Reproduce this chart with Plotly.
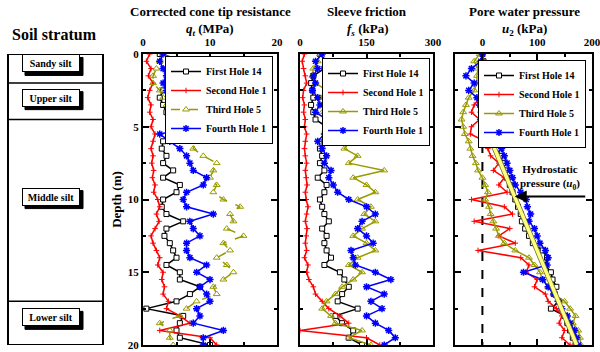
import plotly.graph_objects as go

# ---------------- data ----------------
DEPTH = [0, 0.5, 1, 1.5, 2, 2.5, 3, 3.5, 4, 4.5, 5, 5.5, 6, 6.5, 7, 7.5, 8, 8.5, 9, 9.5,
         10, 10.5, 11, 11.5, 12, 12.5, 13, 13.5, 14, 14.5, 15, 15.5, 16, 16.5, 17, 17.5,
         18, 18.5, 19, 19.5, 20]

SERIES = ["First Hole 14", "Second Hole 1", "Third Hole 5", "Fourth Hole 1"]

# Corrected cone tip resistance qt (MPa)
QT_FIRST = [2.5, 6.5, 8.0, 4.5, 3.5, 3.0, 2.5, 3.0, 3.5, 4.0, 5.0, 4.0, 3.0, 2.8, 3.5, 3.0, 4.5, 3.0, 5.5, 5.0,
            3.0, 2.8, 3.5, 6.0, 3.5, 3.2, 4.0, 4.5, 5.0, 3.5, 5.5, 5.5, 8.5, 7.0, 5.0, 0.5, 6.0, 5.5, 5.0, 5.5, 10.0]
QT_SECOND = [1.0, 0.5, 1.2, 0.8, 1.5, 1.0, 0.7, 1.2, 1.0, 1.5, 1.2, 1.8, 1.5, 1.2, 1.5, 1.3, 1.6, 1.4, 1.8, 1.6,
             2.2, 2.5, 2.0, 2.4, 1.8, 1.2, 1.5, 2.0, 2.5, 2.2, 3.0, 2.8, 3.2, 3.0, 3.8, 3.5, 5.5, 7.0, 2.5, 10.0, 11.0]
QT_THIRD = [3.0, 2.5, 2.0, 1.5, 1.5, 2.5, 3.0, 3.5, 4.0, 5.0, 7.5, 9.5, 8.0, 7.5, 9.0, 11.0, 10.5, 10.0, 11.0, 10.5,
            12.0, 14.5, 13.0, 13.5, 12.5, 15.0, 12.0, 13.0, 11.0, 12.5, 13.5, 12.0, 10.5, 11.0, 8.0, 6.5, 5.5, 2.5, 4.0, 4.0, 4.5]
QT_FOURTH = [3.0, 2.5, 3.0, 3.5, 3.0, 3.5, 4.5, 5.0, 5.5, 7.5, 8.0, 2.5, 4.0, 5.5, 6.5, 7.0, 7.5, 9.5, 9.0, 6.5,
             6.0, 6.5, 10.5, 7.0, 7.5, 8.5, 6.5, 6.5, 7.0, 9.5, 8.0, 10.0, 8.5, 9.5, 10.0, 8.0, 8.5, 7.5, 12.0, 9.0, 9.0]

# Sleeve friction fs (kPa)
FS_FIRST = [45, 60, 55, 30, 25, 28, 30, 25, 30, 35, 60, 70, 55, 45, 50, 45, 55, 40, 60, 55,
            45, 50, 55, 65, 50, 60, 55, 60, 70, 55, 90, 100, 110, 95, 85, 130, 80, 95, 120, 110, 140]
FS_SECOND = [10, 5, 8, 12, 15, 8, 6, 10, 8, 12, 10, 15, 12, 10, 12, 15, 12, 14, 16, 12,
             14, 18, 15, 12, 16, 14, 12, 15, 10, 18, 15, 20, 30, 35, 50, 65, 90, 110, 0, 150, 180]
FS_THIRD = [45, 40, 30, 28, 35, 60, 45, 70, 50, 80, 110, 90, 115, 100, 130, 110, 190, 120, 150, 170,
            130, 160, 145, 170, 140, 120, 150, 170, 130, 110, 140, 120, 95, 80, 60, 50, 70, 80, 140, 110, 160]
FS_FOURTH = [50, 35, 40, 30, 35, 28, 40, 45, 35, 60, 70, 55, 40, 50, 60, 55, 70, 65, 75, 85,
             110, 150, 170, 140, 130, 150, 165, 115, 120, 125, 170, 205, 150, 190, 160, 185, 150, 170, 200, 215, 190]

# Pore water pressure u2 (kPa)
U2_FIRST = [0, 2, 0, 2, 0, 3, 0, 2, 3, 5, 15, 20, 22, 28, 32, 38, 42, 45, 50, 55,
            60, 65, 70, 72, 78, 85, 92, 110, 118, 115, 125, 128, 135, 132, 140, 125, 150, 155, 160, 165, 170]
U2_SECOND = [0, 3, 0, 5, 8, 3, -5, -15, -20, -5, -20, -22, 5, 10, 15, 30, 20, 40, 30, 45,
             -20, 40, 55, -15, 50, 30, 60, -8, 70, 85, 80, 100, 95, 115, 120, 135, 145, 140, 150, 145, 160]
U2_THIRD = [-5, -15, -8, -10, -10, -15, -25, -30, -35, -38, -35, -32, -25, -22, -18, -12, -8, 0, 5, 10,
            5, 12, 15, 20, 25, 30, 40, 60, 85, 95, 105, 110, 120, 130, 150, 160, 170, 165, 175, 178, 180]
U2_FOURTH = [0, -3, -20, -30, -15, -25, -10, -5, -2, 0, 10, 15, 25, 35, 40, 45, 50, 55, 60, 70,
             80, 82, 88, 85, 95, 100, 105, 115, 120, 118, 75, 110, 120, 130, 138, 145, 155, 160, 168, 172, 175]

# Hydrostatic pressure line
HYDRO_DEPTH = [4.5, 20]
HYDRO_U = [0, 172]

# Soil strata
LAYER_NAMES = ["Sandy silt", "Upper silt", "Middle silt", "Lower silt"]
LAYER_BOUNDS = [0, 2, 4.5, 17, 20]

QT_TICKS = [0, 10, 20]
FS_TICKS = [0, 150, 300]
U2_TICKS = [0, 100, 200]
DEPTH_TICKS = [0, 5, 10, 15, 20]

# ---------------- styling ----------------
W, H = 600, 352
FONT = "Liberation Serif"
COLORS = ["#000000", "#ff0000", "#999900", "#0000ff"]


def px(x):
    return x / W


def py(y):
    return 1 - y / H


Y_DOMAIN = [py(345), py(54)]


def marker_for(i):
    if i == 0:
        return dict(symbol="square", size=5, color="white", line=dict(color=COLORS[0], width=1))
    if i == 1:
        return dict(symbol="cross-thin", size=4, color=COLORS[1], line=dict(color=COLORS[1], width=1))
    if i == 2:
        return dict(symbol="triangle-up-open", size=6, color=COLORS[2], line=dict(color=COLORS[2], width=1))
    return dict(symbol="asterisk-open", size=6, color=COLORS[3], line=dict(color=COLORS[3], width=1.5))


fig = go.Figure()

panels = [
    ("x", "y", "legend", [QT_FIRST, QT_SECOND, QT_THIRD, QT_FOURTH]),
    ("x2", "y2", "legend2", [FS_FIRST, FS_SECOND, FS_THIRD, FS_FOURTH]),
    ("x3", "y3", "legend3", [U2_FIRST, U2_SECOND, U2_THIRD, U2_FOURTH]),
]

for pi, (xa, ya, lg, data) in enumerate(panels):
    for i, vals in enumerate(data):
        dash = "dash" if (pi == 0 and i == 2) else "solid"
        fig.add_trace(go.Scatter(
            x=vals, y=DEPTH, xaxis=xa, yaxis=ya, legend=lg, name=SERIES[i],
            mode="lines+markers",
            line=dict(color=COLORS[i], width=1.5, dash=dash),
            marker=marker_for(i),
        ))
    if pi == 2:
        fig.add_trace(go.Scatter(x=HYDRO_U, y=HYDRO_DEPTH, xaxis=xa, yaxis=ya, mode="lines",
                                 line=dict(color="#6b6b2a", width=5), showlegend=False, hoverinfo="skip"))
        fig.add_trace(go.Scatter(x=HYDRO_U, y=HYDRO_DEPTH, xaxis=xa, yaxis=ya, mode="lines",
                                 line=dict(color="#ffff80", width=3.5), showlegend=False, hoverinfo="skip"))

tickfont = dict(family=FONT, size=11, color="black", weight="bold")
common_ax = dict(showline=True, linewidth=2, linecolor="black", mirror="allticks",
                 ticks="inside", ticklen=6, tickwidth=1.5, tickcolor="black", automargin=False,
                 showgrid=False, zeroline=False, tickfont=tickfont, fixedrange=True,
                 ticklabeloverflow="allow")

xcommon = dict(common_ax, side="top", ticklabelstandoff=2)
fig.update_layout(
    xaxis=dict(xcommon, domain=[px(143), px(277)], range=[0, 20], tickvals=QT_TICKS,
               anchor="y", minor=dict(dtick=5, ticks="inside", ticklen=3, tickcolor="black")),
    xaxis2=dict(xcommon, domain=[px(300), px(433)], range=[0, 300], tickvals=FS_TICKS,
                anchor="y2", minor=dict(dtick=75, ticks="inside", ticklen=3, tickcolor="black")),
    xaxis3=dict(xcommon, domain=[px(455), px(592)], range=[-50, 200], tickvals=U2_TICKS,
                anchor="y3", minor=dict(dtick=50, ticks="inside", ticklen=3, tickcolor="black")),
    yaxis=dict(common_ax, domain=Y_DOMAIN, range=[20, 0], tickvals=DEPTH_TICKS, anchor="x",
               minor=dict(dtick=2.5, ticks="inside", ticklen=3, tickcolor="black"),
               title=dict(text="Depth (m)", font=dict(family=FONT, size=13, color="black", weight="bold"),
                          standoff=3)),
    yaxis2=dict(common_ax, domain=Y_DOMAIN, range=[20, 0], tickvals=DEPTH_TICKS, anchor="x2",
                showticklabels=False,
                minor=dict(dtick=2.5, ticks="inside", ticklen=3, tickcolor="black")),
    yaxis3=dict(common_ax, domain=Y_DOMAIN, range=[20, 0], tickvals=DEPTH_TICKS, anchor="x3",
                showticklabels=False,
                minor=dict(dtick=2.5, ticks="inside", ticklen=3, tickcolor="black")),
)

legfont = dict(family=FONT, size=10, color="black", weight="bold")
legcommon = dict(bgcolor="white", bordercolor="black", borderwidth=1, font=legfont,
                 itemwidth=30, xanchor="right", yanchor="top", tracegroupgap=0)
fig.update_layout(
    legend=dict(legcommon, x=px(273), y=py(56)),
    legend2=dict(legcommon, x=px(430), y=py(58)),
    legend3=dict(legcommon, x=px(586), y=py(60)),
)

label_depths = [0.65, 3.0, 9.8, 18.1]
LAB_W, LAB_H = 52, 12  # text box size in px (plus pad/border)
half_w, half_h = LAB_W / 2 + 3, LAB_H / 2 + 3

shapes = []
# soil column box
shapes.append(dict(type="rect", xref="paper", yref="y", x0=px(8), x1=px(103),
                   y0=LAYER_BOUNDS[0], y1=LAYER_BOUNDS[-1], line=dict(color="black", width=2)))
for b in LAYER_BOUNDS[1:-1]:
    shapes.append(dict(type="line", xref="paper", yref="y", x0=px(8), x1=px(103), y0=b, y1=b,
                       line=dict(color="black", width=1.5)))
# drop shadows of stratum labels
for d in label_depths:
    shapes.append(dict(type="rect", xref="paper", yref="y",
                       xsizemode="pixel", xanchor=px(51), x0=-half_w + 3, x1=half_w + 3,
                       ysizemode="pixel", yanchor=d, y0=-half_h - 3, y1=half_h - 3,
                       fillcolor="black", line=dict(color="black", width=1)))
# zero line in u2 panel
shapes.append(dict(type="line", xref="x3", yref="y3", x0=0, x1=0, y0=0, y1=20, layer="below",
                   line=dict(color="black", width=2, dash="dash")))
fig.update_layout(shapes=shapes)

annotations = []
C = dict(xanchor="center", yanchor="middle", showarrow=False)
title_font = dict(family=FONT, size=13, color="black", weight="bold")
annotations.append(dict(C, text="Soil stratum", xref="paper", yref="paper", x=px(55), y=py(35),
                        font=dict(family=FONT, size=16, color="black", weight="bold")))
for cx, t1, t2 in [(210, "Corrected cone tip resistance", "<i>q</i><sub><i>t</i></sub> (MPa)"),
                   (367, "Sleeve friction", "<i>f</i><sub><i>s</i></sub> (kPa)"),
                   (524, "Pore water pressure", "<i>u</i><sub>2</sub> (kPa)")]:
    annotations.append(dict(C, text=t1, xref="paper", yref="paper", x=px(cx), y=py(12), font=title_font))
    annotations.append(dict(C, text=t2, xref="paper", yref="paper", x=px(cx), y=py(29), font=title_font))

lab_font = dict(family=FONT, size=10, color="black", weight="bold")
for name, d in zip(LAYER_NAMES, label_depths):
    annotations.append(dict(C, text=name, xref="paper", yref="y", x=px(51), y=d,
                            font=lab_font, bgcolor="white", bordercolor="black",
                            borderwidth=1, borderpad=2, width=LAB_W, height=LAB_H))

# hydrostatic annotation
annotations.append(dict(C, text="Hydrostatic<br>pressure (<i>u</i><sub>0</sub>)", xref="paper", yref="paper",
                        x=px(550), y=py(177),
                        font=dict(family=FONT, size=11, color="black", weight="bold")))
annotations.append(dict(text="", xref="x3", yref="y3", x=59, y=9.8, ax=72, ay=0,
                        showarrow=True, arrowhead=2, arrowsize=1.2, arrowwidth=2, arrowcolor="black"))
fig.update_layout(annotations=annotations)

fig.update_layout(width=W, height=H, autosize=False, margin=dict(l=0, r=0, t=0, b=0),
                  paper_bgcolor="white", plot_bgcolor="white",
                  font=dict(family=FONT, color="black"))

fig.write_html("out.html", config={"displayModeBar": False},
               post_script="document.body.style.margin='0';document.body.style.overflow='hidden';"
                           "document.documentElement.style.overflow='hidden';")
